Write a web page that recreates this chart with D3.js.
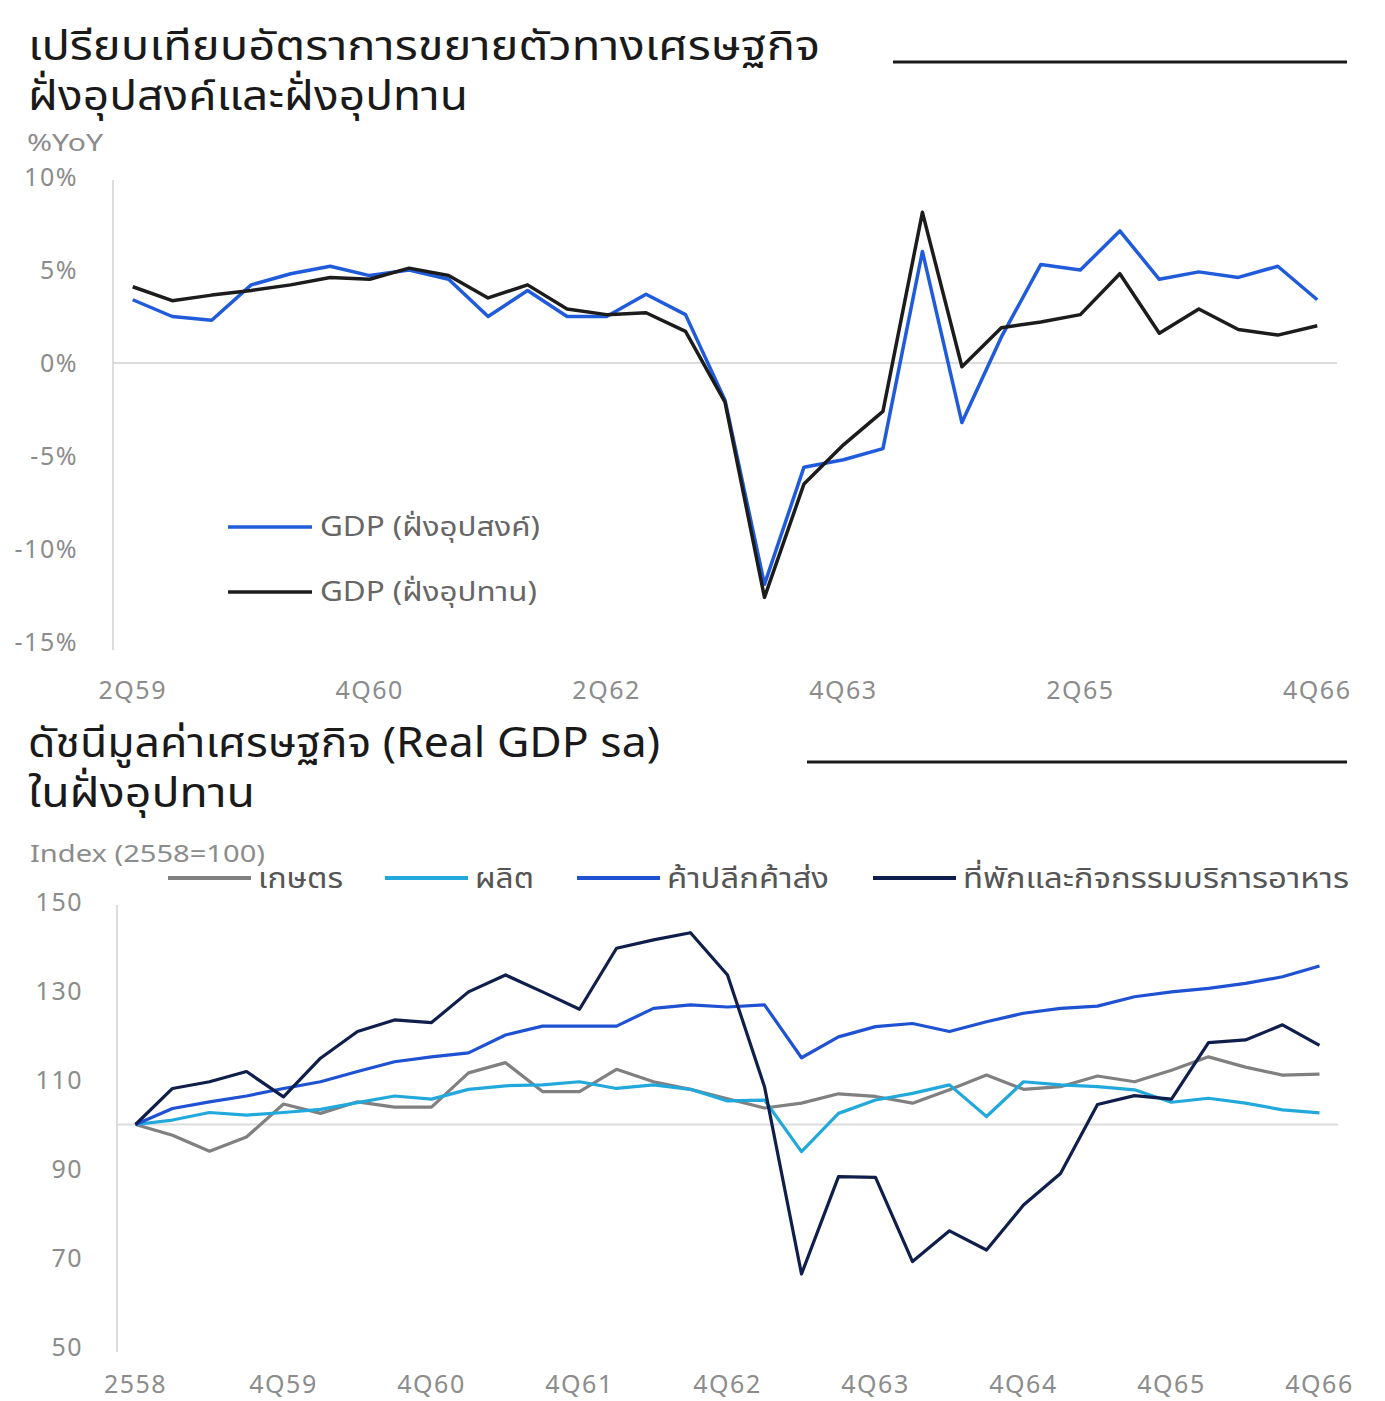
<!DOCTYPE html>
<html>
<head>
<meta charset="utf-8">
<script src="https://d3js.org/d3.v7.min.js"></script>
<style>
  body { margin: 0; background: #fff; }
  svg { display: block; font-family: "Noto Sans Thai", "Noto Sans", "DejaVu Sans", sans-serif; }
</style>
</head>
<body>
<div id="chart"></div>
<script>
// ---- top chart data: GDP %YoY, 2Q59 - 4Q66
const topQuarters = ["2Q59","3Q59","4Q59","1Q60","2Q60","3Q60","4Q60","1Q61","2Q61","3Q61","4Q61",
  "1Q62","2Q62","3Q62","4Q62","1Q63","2Q63","3Q63","4Q63","1Q64","2Q64","3Q64","4Q64",
  "1Q65","2Q65","3Q65","4Q65","1Q66","2Q66","3Q66","4Q66"];
const gdpDemand = [3.4, 2.5, 2.3, 4.2, 4.8, 5.2, 4.7, 5.0, 4.5, 2.5, 3.9, 2.5, 2.5, 3.7, 2.6,
  -2.0, -11.9, -5.6, -5.2, -4.6, 6.0, -3.2, 1.4, 5.3, 5.0, 7.1, 4.5, 4.9, 4.6, 5.2, 3.4];
const gdpSupply = [4.1, 3.35, 3.65, 3.9, 4.2, 4.6, 4.5, 5.1, 4.7, 3.5, 4.2, 2.9, 2.6, 2.7, 1.7,
  -2.1, -12.6, -6.5, -4.4, -2.6, 8.1, -0.2, 1.9, 2.2, 2.6, 4.8, 1.6, 2.9, 1.8, 1.5, 2.0];
const topTicks = [-15, -10, -5, 0, 5, 10];
const topLabels = ["GDP (ฝั่งอุปสงค์)", "GDP (ฝั่งอุปทาน)"];

// ---- bottom chart data: Real GDP sa index (2558=100)
const botQuarters = ["2558","1Q59","2Q59","3Q59","4Q59","1Q60","2Q60","3Q60","4Q60","1Q61","2Q61","3Q61","4Q61",
  "1Q62","2Q62","3Q62","4Q62","1Q63","2Q63","3Q63","4Q63","1Q64","2Q64","3Q64","4Q64",
  "1Q65","2Q65","3Q65","4Q65","1Q66","2Q66","3Q66","4Q66"];
const agri = [100, 97.6, 94.0, 97.2, 104.6, 102.5, 105.1, 103.9, 103.9, 111.6, 113.9, 107.4, 107.4,
  112.4, 109.6, 107.9, 105.8, 103.7, 104.8, 106.9, 106.3, 104.8, 107.8, 111.1, 107.9,
  108.5, 110.9, 109.6, 112.2, 115.2, 112.9, 111.1, 111.3];
const manu = [100, 101.0, 102.7, 102.1, 102.7, 103.4, 104.9, 106.4, 105.7, 107.9, 108.7, 108.9, 109.6,
  108.1, 108.9, 107.9, 105.3, 105.5, 93.9, 102.5, 105.5, 107.0, 108.9, 101.8, 109.6,
  108.9, 108.5, 107.8, 105.0, 105.9, 104.8, 103.3, 102.6];
const retail = [100, 103.6, 105.1, 106.4, 108.1, 109.6, 111.9, 114.1, 115.2, 116.1, 120.1, 122.1, 122.1,
  122.1, 126.1, 126.9, 126.4, 126.9, 115.0, 119.7, 122.0, 122.7, 120.9, 123.1, 125.0,
  126.1, 126.6, 128.7, 129.8, 130.6, 131.7, 133.2, 135.6];
const hotel = [100, 108.1, 109.6, 111.9, 106.2, 114.9, 120.9, 123.5, 122.9, 129.8, 133.6, 129.8, 125.9,
  139.6, 141.5, 143.1, 133.6, 108.5, 66.4, 88.3, 88.1, 69.2, 76.1, 71.8, 81.9,
  89.0, 104.5, 106.5, 105.7, 118.4, 119.0, 122.4, 117.8];
const botTicks = [50, 70, 90, 110, 130, 150];
const botLabels = ["เกษตร", "ผลิต", "ค้าปลีกค้าส่ง", "ที่พักและกิจกรรมบริการอาหาร"];

const W = 1385, H = 1401;
const tickColor = "#8c8c8c";
const axisColor = "#dcdcdc";

const svg = d3.select("#chart").append("svg")
  .attr("width", W).attr("height", H);
svg.append("rect").attr("width", W).attr("height", H).attr("fill", "#fff");

// stretched text so the wide Thai face of the original is matched
function label(x, y, txt, size, color, len) {
  const t = svg.append("text").attr("x", x).attr("y", y)
    .attr("font-size", size).attr("fill", color).text(txt);
  if (len) t.attr("textLength", len).attr("lengthAdjust", "spacingAndGlyphs");
  return t;
}

// title block with a rule on the right
function title(lines, lens, y0, ruleX1, ruleY) {
  lines.forEach((l, i) => label(28, y0 + i * 50, l, 41, "#1a1a1a", lens[i]));
  svg.append("line")
    .attr("x1", ruleX1).attr("x2", 1347)
    .attr("y1", ruleY).attr("y2", ruleY)
    .attr("stroke", "#1a1a1a").attr("stroke-width", 3);
}

function styleAxis(g) {
  g.select(".domain").remove();
  g.selectAll("text")
    .attr("fill", tickColor)
    .attr("font-size", 25)
    .attr("letter-spacing", 1.5)
    .attr("font-family", "'Noto Sans', sans-serif");
}

// ================= TOP CHART =================
title(["เปรียบเทียบอัตราการขยายตัวทางเศรษฐกิจ", "ฝั่งอุปสงค์และฝั่งอุปทาน"], [792, 440], 60, 893, 62);

label(27, 151, "%YoY", 24, tickColor, 76);

const xTop = d3.scaleBand().domain(topQuarters).range([113, 1337]);
const yTop = d3.scaleLinear().domain([-15, 10]).range([642, 177]);
const cxTop = d => xTop(d) + xTop.bandwidth() / 2;

svg.append("line").attr("x1", 113).attr("x2", 113).attr("y1", 180).attr("y2", 650)
  .attr("stroke", axisColor).attr("stroke-width", 2);
svg.append("line").attr("x1", 113).attr("x2", 1337).attr("y1", yTop(0)).attr("y2", yTop(0))
  .attr("stroke", axisColor).attr("stroke-width", 2);

svg.append("g").attr("transform", "translate(113,0)")
  .call(d3.axisLeft(yTop).tickValues(topTicks).tickSize(0).tickPadding(35).tickFormat(d => d + "%"))
  .call(styleAxis);

svg.append("g").attr("transform", "translate(0,681)")
  .call(d3.axisBottom(xTop).tickValues(topQuarters.filter((d, i) => i % 6 === 0)).tickSize(0).tickPadding(0))
  .call(styleAxis);

const lineTop = d3.line().x((d, i) => cxTop(topQuarters[i])).y(d => yTop(d));
const topSeries = [
  { vals: gdpDemand, color: "#1f5bdb" },
  { vals: gdpSupply, color: "#1c1c1c" }
];
topSeries.forEach(s => {
  svg.append("path").attr("d", lineTop(s.vals))
    .attr("fill", "none").attr("stroke", s.color)
    .attr("stroke-width", 3.5).attr("stroke-linejoin", "round");
});

const topLegLen = [220, 217];
topLabels.forEach((l, i) => {
  const y = 527 + i * 65;
  svg.append("line").attr("x1", 228).attr("x2", 312).attr("y1", y).attr("y2", y)
    .attr("stroke", topSeries[i].color).attr("stroke-width", 3.5);
  label(320, y, l, 27, "#666", topLegLen[i]).attr("dy", "0.35em");
});

// ================= BOTTOM CHART =================
title(["ดัชนีมูลค่าเศรษฐกิจ (Real GDP sa)", "ในฝั่งอุปทาน"], [632, 227], 757, 807, 762);

label(30, 862, "Index (2558=100)", 24, tickColor, 235);

const xBot = d3.scaleBand().domain(botQuarters).range([117, 1338]);
const yBot = d3.scaleLinear().domain([50, 150]).range([1347, 902]);
const cxBot = d => xBot(d) + xBot.bandwidth() / 2;

svg.append("line").attr("x1", 117).attr("x2", 117).attr("y1", 905).attr("y2", 1352)
  .attr("stroke", axisColor).attr("stroke-width", 2);
svg.append("line").attr("x1", 117).attr("x2", 1338).attr("y1", yBot(100)).attr("y2", yBot(100))
  .attr("stroke", axisColor).attr("stroke-width", 2);

svg.append("g").attr("transform", "translate(117,0)")
  .call(d3.axisLeft(yBot).tickValues(botTicks).tickSize(0).tickPadding(34))
  .call(styleAxis);

svg.append("g").attr("transform", "translate(0,1375)")
  .call(d3.axisBottom(xBot).tickValues(botQuarters.filter((d, i) => i % 4 === 0)).tickSize(0).tickPadding(0))
  .call(styleAxis);

const lineBot = d3.line().x((d, i) => cxBot(botQuarters[i])).y(d => yBot(d));
const botSeries = [
  { vals: agri, color: "#808080" },
  { vals: manu, color: "#22a9dc" },
  { vals: retail, color: "#1e52d2" },
  { vals: hotel, color: "#0f1e4b" }
];
botSeries.forEach(s => {
  svg.append("path").attr("d", lineBot(s.vals))
    .attr("fill", "none").attr("stroke", s.color)
    .attr("stroke-width", 3.2).attr("stroke-linejoin", "round");
});

const legX = [168, 385, 577, 873];
const botLegLen = [85, 59, 162, 386];
botLabels.forEach((l, i) => {
  svg.append("line").attr("x1", legX[i]).attr("x2", legX[i] + 83).attr("y1", 878).attr("y2", 878)
    .attr("stroke", botSeries[i].color).attr("stroke-width", 4);
  label(legX[i] + 90, 878, l, 28, "#555", botLegLen[i]).attr("dy", "0.35em");
});
</script>
</body>
</html>
